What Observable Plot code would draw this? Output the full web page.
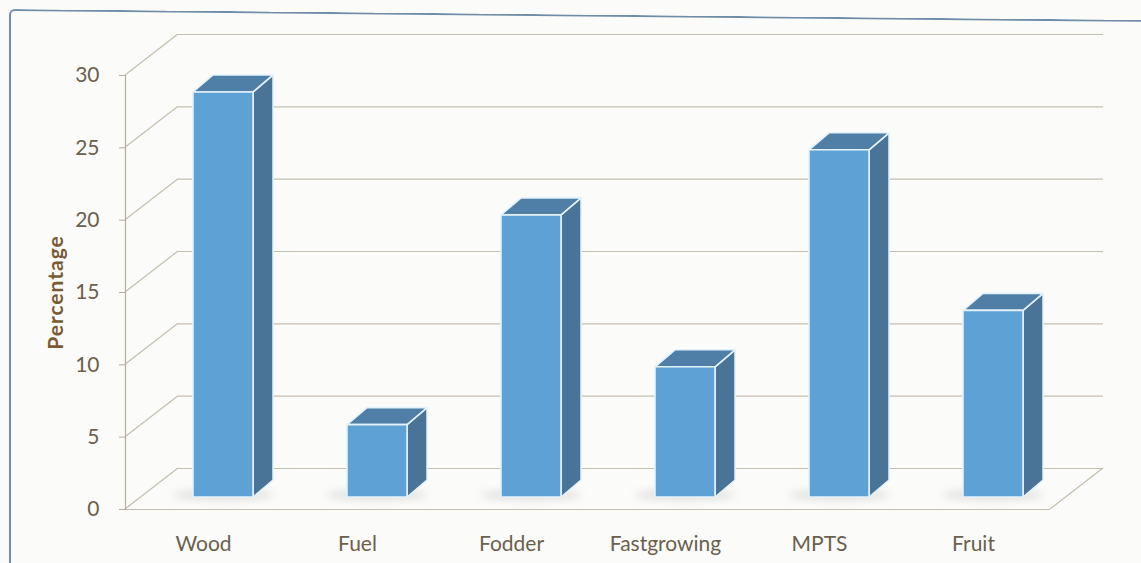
<!DOCTYPE html>
<html>
<head>
<meta charset="utf-8">
<script src="https://cdn.jsdelivr.net/npm/d3@7"></script>
<script src="https://cdn.jsdelivr.net/npm/@observablehq/plot@0.6"></script>
<style>
  html, body { margin: 0; padding: 0; background: #fbfbf9; }
  #chart { position: relative; width: 1141px; height: 563px; overflow: hidden; }
  #chart svg { position: absolute; left: 0; top: 0; }
  .border-top {
    position: absolute; left: 9px; top: 9px; width: 1160px; height: 40px;
    border-top: 2px solid #6f8ca8; border-left: 2px solid #6f8ca8;
    border-top-left-radius: 6px;
    transform-origin: 0 0; transform: rotate(0.55deg);
  }
  .border-left {
    position: absolute; left: 9px; top: 14px; width: 0; height: 560px;
    border-left: 2px solid #6f8ca8;
  }
</style>
</head>
<body>
<div id="chart"><div class="border-top"></div><div class="border-left"></div></div>
<script>
const categories = ["Wood", "Fuel", "Fodder", "Fastgrowing", "MPTS", "Fruit"];
const percentages = [28, 5, 19.5, 9, 24, 12.9];
const yTicks = [0, 5, 10, 15, 20, 25, 30];
const yLabel = "Percentage";

const data = categories.map((category, i) => ({category, value: percentages[i]}));

// 3-D box geometry (pixels): back wall offset, bar placement inside each band
const WALL = {dx: 53, dy: -41};
const BAR = {from: 0.435, to: 0.825, lift: 12, dx: 20, dy: -17};

const gridColor = "#c4bfb0";
const textColor = "#6b5f4e";
const faceFront = "#5ea2d5";
const faceSide = "#4a7497";
const faceTop = "#4f7ea6";
const edgeColor = "#e4f2fb";

function bandwidthOf(scale, dims, n) {
  if (scale && typeof scale.bandwidth === "function") return scale.bandwidth();
  if (scale && typeof scale.bandwidth === "number") return scale.bandwidth;
  return (dims.width - dims.marginLeft - dims.marginRight) / n;
}

// draws each bar as a lit box: front face, right side and top
function prisms(index, scales, values, dims) {
  const g = d3.create("svg:g");
  const bw = bandwidthOf(scales.x, dims, categories.length);
  const defs = g.append("defs");
  defs.append("filter").attr("id", "bar-shadow").attr("x", "-50%").attr("y", "-200%")
    .attr("width", "200%").attr("height", "500%")
    .append("feGaussianBlur").attr("stdDeviation", 4);
  for (const i of index) {
    const x0 = values.x[i] + bw * BAR.from;
    const x1 = values.x[i] + bw * BAR.to;
    const yb = Math.max(values.y1[i], values.y2[i]) - BAR.lift;
    const yt = Math.min(values.y1[i], values.y2[i]) - BAR.lift;
    const {dx, dy} = BAR;
    g.append("ellipse")
      .attr("cx", (x0 + x1 + dx) / 2 - 10).attr("cy", yb - 2)
      .attr("rx", (x1 - x0) / 2 + 20).attr("ry", 5)
      .attr("fill", "#9a9a94").attr("opacity", 0.3)
      .attr("filter", "url(#bar-shadow)");
    const face = (d, fill) => g.append("path").attr("d", d)
      .attr("fill", fill).attr("stroke", edgeColor)
      .attr("stroke-width", 1.6).attr("stroke-linejoin", "round");
    face(`M${x1},${yt}L${x1 + dx},${yt + dy}L${x1 + dx},${yb + dy}L${x1},${yb}Z`, faceSide);
    face(`M${x0},${yt}L${x0 + dx},${yt + dy}L${x1 + dx},${yt + dy}L${x1},${yt}Z`, faceTop);
    face(`M${x0},${yt}L${x1},${yt}L${x1},${yb}L${x0},${yb}Z`, faceFront);
  }
  return g.node();
}

// side wall diagonals from each front tick to the back wall, plus the floor's right edge
function wallEdges(index, scales, values, dims) {
  const g = d3.create("svg:g").attr("stroke", gridColor).attr("stroke-width", 1.2).attr("fill", "none");
  const xl = dims.marginLeft;
  const xr = dims.width - dims.marginRight;
  for (const i of index) {
    const y = values.y[i];
    g.append("line").attr("x1", xl).attr("y1", y).attr("x2", xl + WALL.dx).attr("y2", y + WALL.dy);
    if (yTicks[i] === 0) {
      g.append("line").attr("x1", xr).attr("y1", y).attr("x2", xr + WALL.dx).attr("y2", y + WALL.dy);
    }
  }
  return g.node();
}

const chart = Plot.plot({
  width: 1141,
  height: 563,
  marginLeft: 125,
  marginRight: 91,
  marginTop: 75,
  marginBottom: 54,
  style: {background: "transparent", fontFamily: "Lato, 'Open Sans', sans-serif", color: textColor, overflow: "visible"},
  x: {domain: categories, padding: 0, label: null},
  y: {domain: [0, 30], ticks: yTicks, label: null},
  marks: [
    // back wall gridlines
    Plot.ruleY(yTicks, {dx: WALL.dx, dy: WALL.dy, stroke: gridColor, strokeWidth: 1.2}),
    Plot.ruleY(yTicks, {render: wallEdges}),
    // front floor edge
    Plot.ruleY([0], {stroke: gridColor, strokeWidth: 1.2}),
    Plot.frame({anchor: "left", stroke: "#b3ae9f", strokeWidth: 1.2}),
    Plot.barY(data, {x: "category", y: "value", render: prisms}),
    Plot.axisY(yTicks, {tickSize: 6, tickPadding: 20, stroke: "#b3ae9f", fill: textColor, fontSize: 21, label: null}),
    Plot.axisX({tickSize: 0, tickPadding: 27, fill: textColor, fontSize: 21, label: null}),
    Plot.text([yLabel], {
      frameAnchor: "left", textAnchor: "middle", rotate: -90, dx: -69,
      fontSize: 21, fontWeight: "bold", fill: "#7a5a33",
      style: {letterSpacing: "1px"}
    })
  ]
});

chart.querySelectorAll("text").forEach((t) => {
  if (t.textContent === yLabel) t.setAttribute("letter-spacing", "1");
});

document.getElementById("chart").prepend(chart);
</script>
</body>
</html>
